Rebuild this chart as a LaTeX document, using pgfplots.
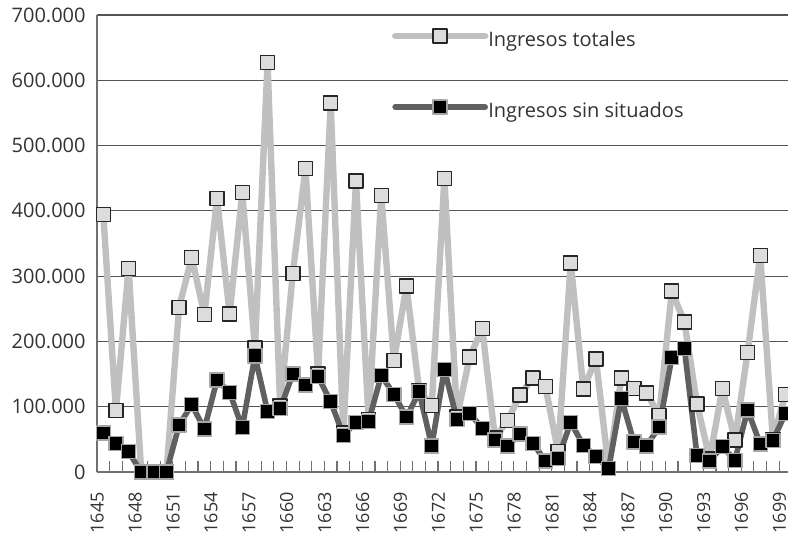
\documentclass[border=0pt]{standalone}
\usepackage{pgfplots}
\pgfplotsset{compat=1.18}
\usepackage{fontspec}
\setmainfont{Open Sans}
\definecolor{txt}{HTML}{333333}
\definecolor{lgray}{HTML}{C0C0C0}
\definecolor{mfill}{HTML}{DCDCDC}
\definecolor{dline}{HTML}{606060}
\definecolor{axc}{HTML}{707070}
\definecolor{gridc}{HTML}{555555}
\begin{document}
\begin{tikzpicture}
\begin{axis}[
  scale only axis,
  width=347.4pt, height=228.5pt,
  xmin=1644.5, xmax=1699.5,
  ymin=0, ymax=700000,
  clip=false,
  axis x line*=bottom, axis y line*=left,
  axis line style={-, draw=axc, line width=0.8pt},
  xtick={1645,1648,...,1699},
  xticklabels={1645,1648,1651,1654,1657,1660,1663,1666,1669,1672,1675,1678,1681,1684,1687,1690,1693,1696,1699},
  minor xtick={1644.5,1645.5,...,1699.5},
  major x tick style={draw=none},
  minor x tick style={draw=axc, line width=0.6pt},
  minor tick length=5.5pt,
  tick align=inside,
  ytick={0,100000,200000,300000,400000,500000,600000,700000},
  yticklabels={0,100.000,200.000,300.000,400.000,500.000,600.000,700.000},
  major y tick style={draw=none},
  scaled y ticks=false,
  ymajorgrids,
  major grid style={draw=gridc, line width=0.6pt},
  font=\fontsize{10}{12}\selectfont,
  tick label style={text=txt, font=\fontsize{10}{12}\selectfont},
  x tick label style={font=\fontsize{9}{11}\selectfont, xshift=-3pt, yshift=-10pt, rotate=90, anchor=east, inner sep=0pt},
  y tick label style={inner sep=0pt, xshift=-5.5pt},
  legend cell align=left,
  legend style={at={(rel axis cs:0.424,0.97)}, anchor=north west, draw=none, fill=none,
    inner sep=0pt, row sep=24.5pt, text=txt, font=\fontsize{10}{12}\selectfont,
    nodes={inner sep=0pt, text height=7.5pt, text depth=2.5pt},
    /tikz/every even column/.append style={column sep=7pt}},
  legend image code/.code={\draw[mark repeat=2,mark phase=2,line cap=round,#1] plot coordinates {(0pt,2.5pt) (22.5pt,2.5pt) (45pt,2.5pt)};},
]
\addplot[color=lgray, line width=3.2pt, line join=round, mark=square*,
  mark size=3.5pt, mark options={fill=mfill, draw=black!85, line width=0.7pt, solid}]
coordinates {
(1645,394000)(1646,94000)(1647,312000)(1648,0)(1649,0)(1650,0)
(1651,252000)(1652,329000)(1653,241000)(1654,419000)(1655,242000)
(1656,428000)(1657,190000)(1658,627000)(1659,101000)(1660,304000)
(1661,465000)(1662,150000)(1663,565000)(1664,60000)(1665,446000)
(1666,80000)(1667,424000)(1668,171000)(1669,285000)(1670,125000)
(1671,102000)(1672,450000)(1673,84000)(1674,176000)(1675,220000)
(1676,52000)(1677,79000)(1678,118000)(1679,144000)(1680,131000)
(1681,31000)(1682,320000)(1683,127000)(1684,173000)(1685,5000)
(1686,144000)(1687,128000)(1688,121000)(1689,87000)(1690,277000)
(1691,230000)(1692,104000)(1693,20000)(1694,128000)(1695,49000)
(1696,183000)(1697,332000)(1698,50000)(1699,119000)
};
\addlegendentry{Ingresos totales}
\addplot[color=dline, line width=2.8pt, line join=round, mark=square*,
  mark size=3.5pt, mark options={fill=black, draw=black!35, line width=0.7pt, solid}]
coordinates {
(1645,60000)(1646,44000)(1647,31000)(1648,0)(1649,0)(1650,0)
(1651,72000)(1652,103000)(1653,66000)(1654,141000)(1655,122000)
(1656,68000)(1657,178000)(1658,93000)(1659,97000)(1660,150000)
(1661,133000)(1662,146000)(1663,108000)(1664,56000)(1665,76000)
(1666,77000)(1667,148000)(1668,119000)(1669,84000)(1670,123000)
(1671,40000)(1672,157000)(1673,80000)(1674,90000)(1675,67000)
(1676,49000)(1677,40000)(1678,58000)(1679,44000)(1680,17000)
(1681,21000)(1682,76000)(1683,41000)(1684,24000)(1685,5000)
(1686,113000)(1687,46000)(1688,40000)(1689,69000)(1690,175000)
(1691,189000)(1692,25000)(1693,17000)(1694,39000)(1695,18000)
(1696,95000)(1697,43000)(1698,48000)(1699,90000)
};
\addlegendentry{Ingresos sin situados}
\end{axis}
\pgfresetboundingbox
\path (-48.5pt,-30pt) rectangle (345.5pt,236pt);
\end{tikzpicture}
\end{document}
